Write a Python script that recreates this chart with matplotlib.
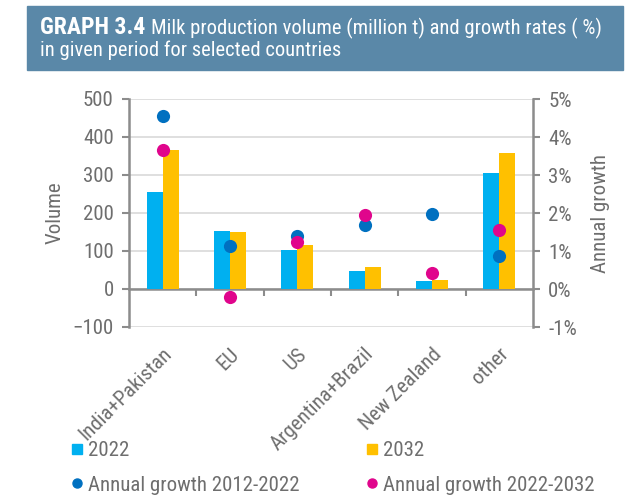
import numpy as np
import matplotlib
matplotlib.use('Agg')
import matplotlib.pyplot as plt
from matplotlib import font_manager
from matplotlib.lines import Line2D
from matplotlib.patches import Rectangle

names = {f.name for f in font_manager.fontManager.ttflist}
candidates = ['Roboto Condensed', 'PT Sans Narrow', 'Fira Sans Condensed', 'Encode Sans Condensed',
              'Liberation Sans Narrow', 'Ubuntu Condensed']
font = next((c for c in candidates if c in names), 'Liberation Sans')
scale = 1.0 if font != 'Liberation Sans' else 0.85
plt.rcParams['font.family'] = [font, 'DejaVu Sans']

countries = ['India+Pakistan', 'EU', 'US', 'Argentina+Brazil', 'New Zealand', 'other']
vol_2022 = [254, 152, 102, 47, 21, 305]
vol_2032 = [365, 149, 116, 57, 23, 357]
growth_12_22 = [4.55, 1.12, 1.40, 1.68, 1.98, 0.88]
growth_22_32 = [3.65, -0.20, 1.23, 1.94, 0.43, 1.54]

c22, c32 = '#00b0f0', '#ffc000'
cblue, cpink = '#0070c0', '#e0058c'
grey_txt = '#6e6e6e'
spine_c = '#8c8c8c'
fs = 15 * scale

fig = plt.figure(figsize=(6.4, 5.03), dpi=100)
W, H = 640, 503

# header box
fig.patches.append(Rectangle((27 / W, 1 - 70 / H), 596 / W, 64 / H, transform=fig.transFigure,
                             color='#5a88a8', zorder=0))
t1 = fig.text(40 / W, 1 - 34 / H, 'GRAPH 3.4', color='white', fontsize=17 * scale, fontweight='bold',
              va='baseline')
fig.canvas.draw()
bb = t1.get_window_extent()
fig.text(bb.x1 / W + 6 / W, 1 - 34 / H, 'Milk production volume (million t) and growth rates ( %)',
         color='white', fontsize=14.8 * scale, va='baseline')
fig.text(40 / W, 1 - 56 / H, 'in given period for selected countries', color='white',
         fontsize=14.8 * scale, va='baseline')

ax = fig.add_axes([129 / W, 1 - 327 / H, 404 / W, 228 / H])
x = np.arange(len(countries))
bw = 0.24
ax.bar(x - bw / 2, vol_2022, bw, color=c22, zorder=3)
ax.bar(x + bw / 2, vol_2032, bw, color=c32, zorder=3)
ax.set_xlim(-0.5, len(countries) - 0.5)
ax.set_ylim(-100, 500)
ax.set_yticks(np.arange(-100, 501, 100))
ax.yaxis.grid(True, color='#d9d9d9', lw=1.2, zorder=0)
ax.set_xticks(np.arange(0.5, len(countries) - 0.5, 1))
ax.set_xticklabels([])
ax.tick_params(axis='x', length=5, width=1.5, color=spine_c)
ax.tick_params(axis='y', length=5, width=1.5, color=spine_c, labelsize=fs, labelcolor=grey_txt, pad=6)
for s in ['top', 'right']:
    ax.spines[s].set_visible(False)
ax.spines['bottom'].set_position(('data', 0))
for s in ['left', 'bottom']:
    ax.spines[s].set_color(spine_c)
    ax.spines[s].set_linewidth(1.8)
ax.set_ylabel('Volume', fontsize=fs, color=grey_txt, labelpad=6)

ax2 = ax.twinx()
ax2.set_ylim(-1, 5)
ax2.set_yticks(np.arange(-1, 6, 1))
ax2.set_yticklabels(['%d%%' % v for v in range(-1, 6)])
ax2.scatter(x, growth_12_22, s=90, color=cblue, zorder=4, linewidths=0)
ax2.scatter(x, growth_22_32, s=90, color=cpink, zorder=5, linewidths=0)
for s in ['top', 'left', 'bottom']:
    ax2.spines[s].set_visible(False)
ax2.spines['right'].set_color(spine_c)
ax2.spines['right'].set_linewidth(1.8)
ax2.tick_params(axis='y', length=5, width=1.5, color=spine_c, labelsize=fs, labelcolor=grey_txt, pad=6)
ax2.set_ylabel('Annual growth', fontsize=fs, color=grey_txt, labelpad=10)

# rotated category labels, ending just right of each category centre
for i, name in enumerate(countries):
    ax.text(i + 0.15, -0.123, name, transform=ax.get_xaxis_transform(), rotation=45,
            rotation_mode='anchor', ha='right', va='baseline', fontsize=fs, color=grey_txt)

legend_kw = dict(loc='upper left', frameon=False, fontsize=fs, labelcolor=grey_txt, handlelength=0.7,
                 handletextpad=0.15, labelspacing=0.75, borderpad=0, borderaxespad=0)
fig.legend([Line2D([], [], ls='', marker='s', ms=7.5, color=c22),
            Line2D([], [], ls='', marker='o', ms=6.5, color=cblue)],
           ['2022', 'Annual growth 2012-2022'], bbox_to_anchor=(70 / W, 1 - 441 / H), **legend_kw)
fig.legend([Line2D([], [], ls='', marker='s', ms=7.5, color=c32),
            Line2D([], [], ls='', marker='o', ms=6.5, color=cpink)],
           ['2032', 'Annual growth 2022-2032'], bbox_to_anchor=(365 / W, 1 - 441 / H), **legend_kw)

fig.savefig('out.png', dpi=100)
